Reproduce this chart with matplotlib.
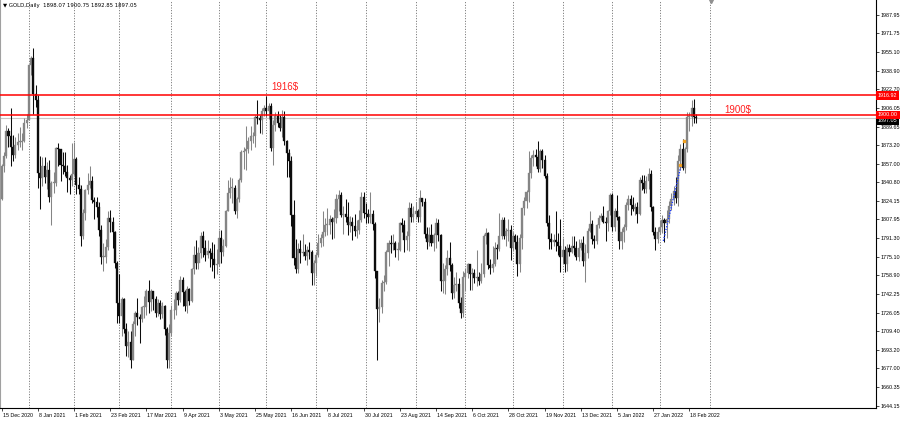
import matplotlib
matplotlib.use("Agg")
import matplotlib.pyplot as plt
import matplotlib.transforms as mtransforms
import pandas as pd

# ---------------- data (GOLD, Daily) ----------------
holidays = ["2020-12-25", "2021-01-01", "2021-04-02", "2021-12-24"]

first_open = 1826.0

close = [
    # Dec 2020
    1855, 1864, 1886, 1881, 1872, 1865, 1873, 1876, 1876, 1877, 1893, 1895,
    # Jan 2021
    1944, 1950, 1918, 1913, 1849, 1844, 1855, 1845, 1851, 1828, 1840, 1840, 1871, 1870, 1856, 1855, 1850, 1844, 1843, 1848,
    # Feb 2021
    1861, 1838, 1835, 1793, 1814, 1834, 1838, 1842, 1825, 1823, 1819, 1799, 1775, 1775, 1784, 1809, 1806, 1797, 1770, 1734,
    # Mar 2021
    1723, 1738, 1712, 1697, 1700, 1684, 1716, 1726, 1722, 1720, 1731, 1731, 1745, 1735, 1745, 1738, 1726, 1734, 1725, 1732, 1712, 1684, 1708,
    # Apr 2021
    1728, 1728, 1743, 1737, 1755, 1744, 1732, 1747, 1736, 1764, 1777, 1770, 1778, 1793, 1783, 1777, 1780, 1778, 1773, 1768, 1769,
    # May 2021
    1792, 1779, 1785, 1815, 1831, 1836, 1836, 1815, 1826, 1843, 1867, 1868, 1870, 1877, 1881, 1881, 1898, 1897, 1895, 1903, 1906,
    # Jun 2021
    1903, 1908, 1871, 1891, 1899, 1893, 1888, 1898, 1877, 1866, 1859, 1812, 1774, 1764, 1782, 1778, 1779, 1776, 1781, 1779, 1761, 1770,
    # Jul 2021
    1777, 1787, 1792, 1797, 1803, 1803, 1808, 1806, 1809, 1826, 1829, 1812, 1813, 1810, 1803, 1806, 1802, 1798, 1799, 1807, 1828, 1814,
    # Aug 2021
    1813, 1810, 1813, 1804, 1763, 1729, 1731, 1752, 1753, 1779, 1787, 1786, 1787, 1781, 1781, 1805, 1803, 1790, 1793, 1818, 1810, 1813,
    # Sep 2021
    1815, 1810, 1827, 1823, 1795, 1788, 1794, 1787, 1794, 1805, 1794, 1754, 1754, 1764, 1774, 1768, 1743, 1750, 1751, 1734, 1726, 1757,
    # Oct 2021
    1761, 1769, 1760, 1761, 1756, 1757, 1754, 1760, 1793, 1796, 1768, 1765, 1769, 1783, 1782, 1793, 1807, 1793, 1798, 1799, 1783,
    # Nov 2021
    1793, 1788, 1769, 1792, 1818, 1824, 1832, 1849, 1862, 1865, 1863, 1852, 1868, 1860, 1846, 1805, 1791, 1788, 1790, 1788, 1785, 1775,
    # Dec 2021
    1781, 1769, 1783, 1779, 1785, 1783, 1775, 1783, 1787, 1771, 1778, 1798, 1804, 1791, 1789, 1803, 1809, 1811, 1806, 1805, 1815, 1829,
    # Jan 2022
    1801, 1815, 1810, 1789, 1797, 1801, 1821, 1826, 1821, 1817, 1819, 1813, 1843, 1840, 1835, 1842, 1848, 1819, 1797, 1791, 1797,
    # Feb 2022
    1801, 1807, 1805, 1808, 1820, 1826, 1833, 1827, 1859, 1870, 1853, 1870, 1898, 1898, 1906, 1898.07, 1897.05,
]

high = [
    1857, 1867, 1891, 1888, 1906, 1882, 1880, 1884, 1889, 1884, 1897, 1901,
    1944, 1952, 1959, 1926, 1917, 1864, 1863, 1863, 1858, 1860, 1842, 1850, 1872, 1875, 1868, 1867, 1867, 1856, 1847, 1875,
    1876, 1863, 1845, 1838, 1817, 1835, 1849, 1855, 1846, 1828, 1828, 1823, 1803, 1787, 1791, 1815, 1816, 1810, 1798, 1771,
    1760, 1740, 1739, 1717, 1710, 1710, 1719, 1727, 1739, 1725, 1732, 1741, 1747, 1755, 1747, 1745, 1741, 1738, 1737, 1735, 1733, 1713, 1716,
    1733, 1738, 1745, 1745, 1758, 1757, 1746, 1749, 1748, 1765, 1785, 1790, 1784, 1797, 1798, 1790, 1790, 1783, 1788, 1786, 1782,
    1799, 1799, 1791, 1816, 1843, 1845, 1844, 1838, 1828, 1844, 1869, 1872, 1890, 1880, 1890, 1885, 1900, 1913, 1900, 1906, 1909,
    1916.9, 1910, 1910, 1895, 1902, 1903, 1900, 1904, 1903, 1878, 1870, 1864, 1825, 1791, 1787, 1790, 1795, 1786, 1785, 1788, 1781, 1772,
    1779, 1795, 1795, 1815, 1809, 1818, 1812, 1810, 1817, 1830, 1834, 1832, 1820, 1826, 1823, 1811, 1810, 1813, 1807, 1816, 1832, 1832,
    1822, 1817, 1832, 1816, 1806, 1763, 1739, 1755, 1759, 1781, 1790, 1794, 1795, 1789, 1788, 1806, 1809, 1807, 1798, 1823, 1822, 1820,
    1823, 1817, 1834, 1827, 1827, 1801, 1801, 1804, 1796, 1809, 1808, 1795, 1770, 1768, 1781, 1788, 1770, 1757, 1762, 1756, 1740, 1763,
    1765, 1770, 1769, 1765, 1764, 1781, 1762, 1770, 1795, 1800, 1797, 1773, 1785, 1788, 1786, 1814, 1810, 1810, 1800, 1808, 1803,
    1797, 1795, 1794, 1795, 1818, 1828, 1834, 1868, 1865, 1869, 1870, 1877, 1870, 1870, 1865, 1849, 1812, 1796, 1795, 1815, 1796, 1808,
    1792, 1785, 1786, 1786, 1793, 1793, 1789, 1791, 1791, 1793, 1786, 1800, 1815, 1807, 1794, 1804, 1812, 1814, 1820, 1810, 1816, 1831,
    1831, 1818, 1829, 1811, 1800, 1804, 1823, 1829, 1829, 1828, 1822, 1823, 1845, 1847, 1847, 1846, 1853, 1851, 1820, 1801, 1801,
    1807, 1812, 1809, 1816, 1824, 1831, 1837, 1845, 1865, 1874, 1879, 1872, 1902, 1902, 1913, 1914, 1900.75,
]

low = [
    1825, 1850, 1862, 1872, 1855, 1859, 1862, 1869, 1872, 1869, 1876, 1888,
    1895, 1935, 1901, 1907, 1836, 1817, 1837, 1840, 1835, 1823, 1803, 1831, 1837, 1855, 1842, 1848, 1846, 1832, 1830, 1837,
    1847, 1830, 1830, 1785, 1791, 1807, 1830, 1836, 1822, 1808, 1810, 1793, 1769, 1763, 1770, 1781, 1797, 1783, 1765, 1717,
    1717, 1705, 1708, 1688, 1687, 1677, 1684, 1705, 1715, 1699, 1718, 1721, 1724, 1726, 1727, 1728, 1722, 1723, 1720, 1721, 1706, 1677, 1677,
    1705, 1720, 1724, 1733, 1735, 1732, 1727, 1726, 1733, 1735, 1760, 1764, 1764, 1774, 1775, 1771, 1774, 1766, 1763, 1756, 1760,
    1767, 1770, 1776, 1784, 1815, 1827, 1822, 1813, 1809, 1823, 1841, 1852, 1851, 1866, 1869, 1875, 1872, 1892, 1884, 1883, 1899,
    1899, 1896, 1868, 1856, 1886, 1889, 1886, 1880, 1873, 1845, 1845, 1802, 1768, 1761, 1761, 1770, 1776, 1772, 1768, 1773, 1750, 1750,
    1758, 1775, 1784, 1785, 1793, 1794, 1795, 1791, 1792, 1805, 1815, 1810, 1795, 1806, 1794, 1797, 1790, 1793, 1792, 1795, 1806, 1809,
    1805, 1805, 1805, 1799, 1756, 1684, 1718, 1726, 1745, 1751, 1767, 1778, 1781, 1775, 1772, 1780, 1797, 1779, 1781, 1780, 1806, 1806,
    1808, 1806, 1806, 1820, 1792, 1782, 1785, 1785, 1780, 1783, 1789, 1745, 1743, 1742, 1759, 1763, 1738, 1739, 1745, 1730, 1721, 1722,
    1745, 1756, 1746, 1746, 1752, 1749, 1750, 1752, 1757, 1786, 1764, 1760, 1762, 1767, 1773, 1780, 1791, 1791, 1785, 1789, 1772,
    1780, 1782, 1758, 1762, 1782, 1812, 1818, 1823, 1844, 1855, 1855, 1850, 1850, 1853, 1844, 1802, 1782, 1782, 1785, 1780, 1777, 1762,
    1770, 1762, 1763, 1776, 1778, 1777, 1772, 1771, 1781, 1767, 1753, 1774, 1797, 1786, 1783, 1786, 1800, 1807, 1805, 1789, 1798, 1812,
    1798, 1798, 1807, 1782, 1782, 1788, 1799, 1816, 1812, 1815, 1812, 1805, 1812, 1834, 1831, 1831, 1835, 1815, 1794, 1781, 1787,
    1795, 1796, 1788, 1792, 1805, 1816, 1821, 1822, 1820, 1851, 1851, 1849, 1867, 1886, 1890, 1893, 1892.85,
]

date_labels = ["15 Dec 2020", "8 Jan 2021", "1 Feb 2021", "23 Feb 2021", "17 Mar 2021",
               "9 Apr 2021", "3 May 2021", "25 May 2021", "16 Jun 2021", "8 Jul 2021",
               "30 Jul 2021", "23 Aug 2021", "14 Sep 2021", "6 Oct 2021", "28 Oct 2021",
               "19 Nov 2021", "13 Dec 2021", "5 Jan 2022", "27 Jan 2022", "18 Feb 2022"]
label_step = 16

price_ticks = [1987.95, 1971.75, 1955.10, 1938.90, 1922.70, 1906.05, 1889.65, 1873.20,
               1857.00, 1840.80, 1824.15, 1807.95, 1791.30, 1775.10, 1758.90, 1742.25,
               1726.05, 1709.40, 1693.20, 1677.00, 1660.35, 1644.15]

level_high = 1916.92
level_low = 1900.00
bid_price = 1897.05
title_text = "\u25bc GOLD,Daily  1898.07 1900.75 1892.85 1897.05"

# blue dotted helper line and small orange marks near the end
trend_x = [292.5, 300.5]
trend_y = [1789, 1857]
orange_x = [300, 301.5]
orange_y = [1856, 1877]

# ---------------- figure ----------------
W, H = 900, 421
fig = plt.figure(figsize=(W / 100, H / 100), dpi=100)
fig.patch.set_facecolor("white")
ax = fig.add_axes([0, 13 / H, 876 / W, 408 / H])
ax.set_xlim(-0.75, 386.5)
ax.set_ylim(1642.1, 2000.9)

ax.spines["top"].set_visible(False)
ax.spines["left"].set_color("#a0a0a0")
ax.spines["left"].set_linewidth(0.8)
for s in ["right", "bottom"]:
    ax.spines[s].set_color("black")
    ax.spines[s].set_linewidth(0.8)

# dates & month separators (dotted grid)
dates = pd.bdate_range("2020-12-15", "2022-02-23")
dates = dates[~dates.isin(pd.to_datetime(holidays))]
month_idx = [i for i in range(1, len(dates)) if dates[i].month != dates[i - 1].month]
month_idx.append(313)
ax.vlines(month_idx, 1642.1, 2000.9, colors="#555555", linestyles=(0, (1.2, 2.0)), lw=0.6, zorder=1)

# candles
n = len(close)
opens = [first_open] + close[:-1]
bull_c, bear_c = "#858585", "#0c0c0c"
for i in range(n):
    o, c = opens[i], close[i]
    h = max(high[i], o, c)
    l = min(low[i], o, c)
    col = bull_c if c >= o else bear_c
    ax.vlines(i, l, h, colors=col, lw=0.75, zorder=3)
    ax.bar(i, max(abs(c - o), 0.6), bottom=min(o, c), width=0.9, color=col,
           edgecolor=col, linewidth=0.25, zorder=4)

# levels
ax.axhline(bid_price, color="#c8c8c8", lw=0.8, zorder=2)
ax.axhline(level_high, color="#ff0000", lw=1.1, zorder=5)
ax.axhline(level_low, color="#ff0000", lw=1.1, zorder=5)

ax.text(119.2, 1924.0, "1916$", color="#ff2020", fontsize=7, family="Liberation Sans",
        ha="left", va="center", zorder=6)
ax.text(319.3, 1904.2, "1900$", color="#ff2020", fontsize=7, family="Liberation Sans",
        ha="left", va="center", zorder=6)

# blue dotted line and orange marks
ax.plot(trend_x, trend_y, color="#1f3fff", lw=1.0, linestyle=(0, (1, 1)), zorder=6)
ax.plot(orange_x, orange_y, linestyle="none", marker="s", ms=1.6, color="#f0a020", zorder=6)

# right price axis
ax.yaxis.tick_right()
ax.set_yticks(price_ticks)
ax.set_yticklabels([f"{v:.2f}" for v in price_ticks], fontsize=3.9, family="Liberation Sans")
ax.tick_params(axis="y", direction="out", length=2.2, width=0.5, pad=1.2, colors="black")

# bottom date axis
tick_pos = [k * label_step for k in range(len(date_labels))]
ax.set_xticks(tick_pos)
ax.set_xticklabels([])
ax.tick_params(axis="x", direction="out", length=2.2, width=0.5, colors="black")
trans_x = mtransforms.blended_transform_factory(ax.transData, ax.transAxes)
for p, lab in zip(tick_pos, date_labels):
    ax.text(p, -0.0125, lab,
            transform=trans_x + mtransforms.ScaledTranslation(1.0 / 100, 0, fig.dpi_scale_trans),
            fontsize=3.8, family="Liberation Sans", ha="left", va="top", clip_on=False)

# price tags on the right axis
trans_y = mtransforms.blended_transform_factory(ax.transAxes, ax.transData)
ax.text(1.0 + 2 / 876, bid_price - 2.2, f"{bid_price:.2f}", transform=trans_y, fontsize=3.9,
        family="Liberation Sans", color="white", ha="left", va="center", clip_on=False, zorder=7,
        bbox=dict(boxstyle="square,pad=0.3", fc="black", ec="none"))
for lv in (level_high, level_low):
    ax.text(1.0 + 2 / 876, lv, f"{lv:.2f}", transform=trans_y, fontsize=3.9,
            family="Liberation Sans", color="white", ha="left", va="center", clip_on=False, zorder=8,
            bbox=dict(boxstyle="square,pad=0.3", fc="#ff0000", ec="none"))

# chart shift marker and title
ax.plot([313.5], [1999.6], marker="v", ms=3, color="#909090", clip_on=False, zorder=7)
fig.text(3 / W, 1 - 5.5 / H, title_text, fontsize=3.9, family="DejaVu Sans", ha="left", va="center")

fig.savefig("out.png", dpi=100, facecolor="white")
